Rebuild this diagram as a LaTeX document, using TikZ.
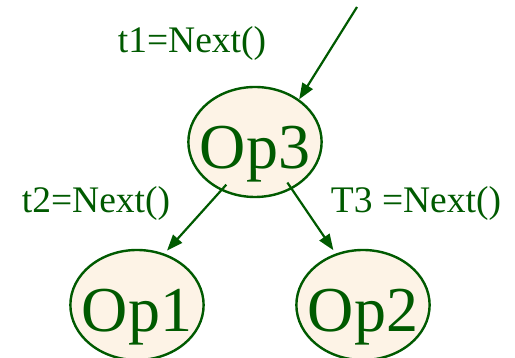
\documentclass[tikz,border=0pt]{standalone}
\usepackage{fontspec}
\setmainfont{Liberation Serif}
\usetikzlibrary{shapes.geometric,arrows.meta}
\definecolor{opgreen}{RGB}{0,90,0}
\definecolor{opfill}{RGB}{253,243,230}
\tikzset{
  opnode/.style={ellipse,draw=opgreen,fill=opfill,line width=2.4pt,
    minimum width=132pt,minimum height=110pt,inner xsep=-8pt,inner ysep=0pt,
    text height=54pt,text depth=0pt,text=opgreen,font=\fontsize{64}{70}\selectfont},
  lbl/.style={anchor=base,text=opgreen,inner sep=0pt,font=\fontsize{37.5}{42}\selectfont},
  arr/.style={draw=opgreen,line width=2.2pt,-{Triangle[length=16pt,width=12pt]}}
}
\begin{document}
\begin{tikzpicture}[x=1pt,y=1pt]
\useasboundingbox (0,0) rectangle (515,358);
\node[opnode] (op3) at (255,216) {Op3};
\node[opnode] (op1) at (137,53) {Op1};
\node[opnode] (op2) at (363,53) {Op2};
\node[lbl] (next1) at (192,305) {t1=Next()};
\node[lbl] (next2) at (96,145) {t2=Next()};
\node[lbl] (next3) at (416,145) {T3 =Next()};
\coordinate (caller) at (357,351);
\draw[arr] (caller) -- (op3.44);
\draw[arr,shorten <=-8pt,shorten >=4pt] (op3.235) -- (op1.62);
\draw[arr,shorten <=-8pt,shorten >=4pt] (op3.308) -- (op2.118);
\end{tikzpicture}
\end{document}
